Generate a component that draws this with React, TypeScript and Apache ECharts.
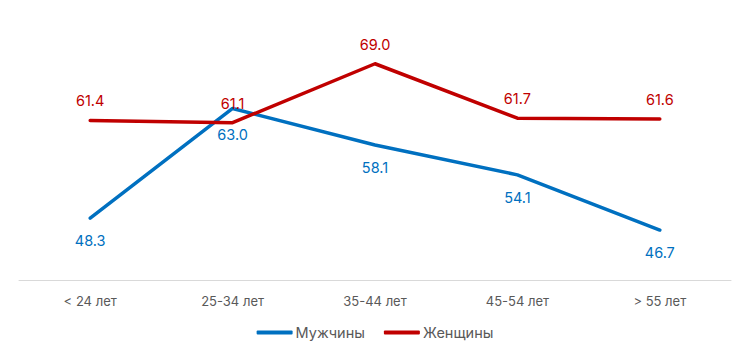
import React, { useEffect, useRef } from "react";
import * as echarts from "echarts";

const categories = ["< 24 лет", "25-34 лет", "35-44 лет", "45-54 лет", "> 55 лет"];
const menValues = [48.3, 63.0, 58.1, 54.1, 46.7];
const womenValues = [61.4, 61.1, 69.0, 61.7, 61.6];
const menName = "Мужчины";
const womenName = "Женщины";

export default function App() {
  const ref = useRef<HTMLDivElement>(null);
  useEffect(() => {
    if (!ref.current) return;
    const chart = echarts.init(ref.current, undefined, { renderer: "svg" });
    const font = "Inter, Roboto, sans-serif";
    const menData = menValues.map((v, i) => (i === 1 ? { value: v, label: { distance: 19 } } : v));
    chart.setOption({
      animation: false,
      textStyle: { fontFamily: font },
      grid: { left: 19, right: 19, top: 19, bottom: 81 },
      legend: {
        bottom: 16,
        left: "center",
        itemWidth: 36,
        itemHeight: 4,
        itemGap: 19,
        icon: "roundRect",
        textStyle: { color: "#595959", fontSize: 14.5, fontFamily: font, padding: [0, 0, 0, -2] },
        data: [menName, womenName],
      },
      xAxis: {
        type: "category",
        data: categories,
        boundaryGap: true,
        axisLine: { show: true, lineStyle: { color: "#d9d9d9", width: 1 } },
        axisTick: { show: false },
        axisLabel: { color: "#595959", fontSize: 13, margin: 14, fontFamily: font },
      },
      yAxis: {
        type: "value",
        min: 40,
        max: 75,
        show: false,
        splitLine: { show: false },
      },
      series: [
        {
          name: menName,
          type: "line",
          data: menData,
          symbol: "circle",
          symbolSize: 0,
          showSymbol: true,
          color: "#0070C0",
          lineStyle: { width: 3.5, cap: "round", join: "round" },
          label: {
            show: true,
            position: "bottom",
            distance: 15,
            color: "#0070C0",
            fontSize: 14.5,
            fontFamily: font,
            formatter: (p: any) => Number(p.value).toFixed(1),
          },
        },
        {
          name: womenName,
          type: "line",
          data: womenValues,
          symbol: "circle",
          symbolSize: 0,
          showSymbol: true,
          color: "#C00000",
          lineStyle: { width: 3.5, cap: "round", join: "round" },
          label: {
            show: true,
            position: "top",
            distance: 12,
            color: "#C00000",
            fontSize: 14.5,
            fontFamily: font,
            formatter: (p: any) => Number(p.value).toFixed(1),
          },
        },
      ],
    });
    return () => chart.dispose();
  }, []);
  return <div ref={ref} style={{ position: "absolute", left: 0, top: 0, width: 750, height: 361 }} />;
}
